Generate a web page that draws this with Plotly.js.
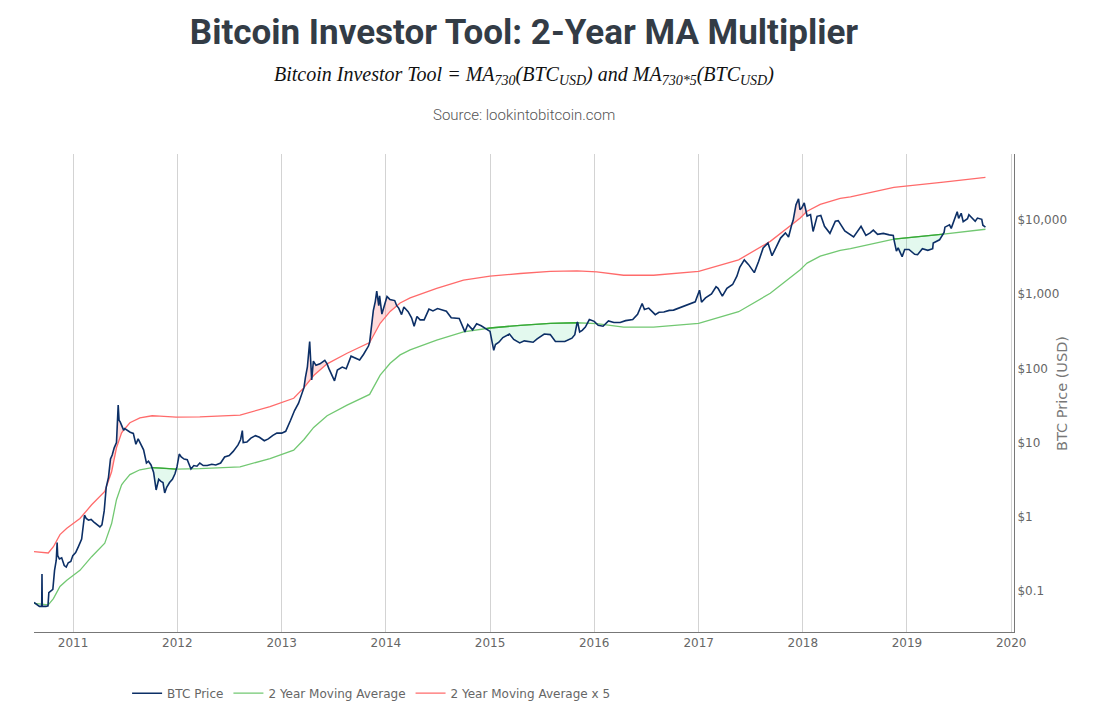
<!DOCTYPE html>
<html>
<head>
<meta charset="utf-8">
<script src="https://cdn.plot.ly/plotly-3.0.1.min.js"></script>
<style>html,body{margin:0;padding:0;background:#fff;}#chart{width:1095px;height:714px;}</style>
</head>
<body>
<div id="chart"></div>
<script>
// ---- BTC price (USD) ----
const priceDates = [
"2010-08-17","2010-08-25","2010-09-05","2010-09-13","2010-09-14","2010-09-15","2010-09-28","2010-10-05","2010-10-08","2010-10-15",
"2010-10-22","2010-10-28","2010-11-03","2010-11-06","2010-11-08","2010-11-14","2010-11-22","2010-12-01","2010-12-08","2010-12-15",
"2010-12-24","2010-12-31","2011-01-10","2011-01-20","2011-01-31","2011-02-10","2011-02-16","2011-02-24","2011-03-05","2011-03-15",
"2011-03-25","2011-04-05","2011-04-12","2011-04-20","2011-04-27","2011-05-05","2011-05-12","2011-05-18","2011-05-25","2011-06-02",
"2011-06-08","2011-06-11","2011-06-15","2011-06-22","2011-06-27","2011-07-01","2011-07-10","2011-07-20","2011-07-31","2011-08-09",
"2011-08-17","2011-08-25","2011-09-05","2011-09-15","2011-09-22","2011-10-01","2011-10-05","2011-10-10","2011-10-19","2011-10-28",
"2011-11-05","2011-11-12","2011-11-18","2011-11-25","2011-12-05","2011-12-15","2011-12-24","2011-12-28","2011-12-31","2012-01-08",
"2012-01-15","2012-01-25","2012-02-05","2012-02-18","2012-02-28","2012-03-10","2012-03-20","2012-04-01","2012-04-15","2012-05-01",
"2012-05-15","2012-06-01","2012-06-15","2012-07-01","2012-07-15","2012-08-01","2012-08-10","2012-08-16","2012-08-19","2012-09-01",
"2012-09-15","2012-10-01","2012-10-15","2012-11-01","2012-11-15","2012-12-01","2012-12-15","2013-01-01","2013-01-15","2013-02-01",
"2013-02-15","2013-03-01","2013-03-15","2013-03-20","2013-03-25","2013-04-01","2013-04-09","2013-04-12","2013-04-16","2013-04-22",
"2013-05-01","2013-05-15","2013-06-01","2013-06-09","2013-06-15","2013-07-05","2013-07-15","2013-08-01","2013-08-15","2013-09-01",
"2013-09-15","2013-10-01","2013-10-15","2013-11-01","2013-11-05","2013-11-10","2013-11-18","2013-11-25","2013-11-30","2013-12-07",
"2013-12-10","2013-12-18","2013-12-25","2014-01-05","2014-01-15","2014-02-01","2014-02-08","2014-02-15","2014-02-25","2014-03-05",
"2014-03-20","2014-04-01","2014-04-10","2014-04-20","2014-05-01","2014-05-15","2014-06-01","2014-06-15","2014-07-01","2014-07-15",
"2014-08-01","2014-08-18","2014-09-01","2014-09-15","2014-10-05","2014-10-15","2014-11-01","2014-11-15","2014-12-01","2014-12-15",
"2014-12-18","2015-01-01","2015-01-14","2015-01-20","2015-02-01","2015-02-15","2015-03-10","2015-03-25","2015-04-15","2015-05-01",
"2015-06-01","2015-06-15","2015-07-10","2015-07-31","2015-08-18","2015-09-01","2015-09-20","2015-10-15","2015-10-25","2015-11-02",
"2015-11-04","2015-11-11","2015-11-20","2015-12-01","2015-12-15","2016-01-01","2016-01-15","2016-02-01","2016-02-20","2016-03-10",
"2016-04-01","2016-04-20","2016-05-15","2016-06-01","2016-06-17","2016-06-25","2016-07-10","2016-08-02","2016-08-15","2016-09-01",
"2016-09-20","2016-10-05","2016-10-25","2016-11-15","2016-12-01","2016-12-20","2017-01-04","2017-01-11","2017-01-25","2017-02-15",
"2017-03-03","2017-03-10","2017-03-25","2017-04-10","2017-04-30","2017-05-15","2017-05-25","2017-06-10","2017-06-25","2017-07-15",
"2017-07-30","2017-08-15","2017-09-01","2017-09-15","2017-10-01","2017-10-15","2017-11-01","2017-11-12","2017-11-24","2017-11-28",
"2017-12-08","2017-12-17","2017-12-22","2017-12-28","2018-01-06","2018-01-12","2018-01-16","2018-01-28","2018-02-06","2018-02-20",
"2018-03-05","2018-03-18","2018-04-06","2018-04-25","2018-05-05","2018-05-28","2018-06-12","2018-06-28","2018-07-24","2018-08-10",
"2018-08-25","2018-09-05","2018-09-20","2018-10-10","2018-10-31","2018-11-14","2018-11-16","2018-11-20","2018-11-25","2018-12-01",
"2018-12-15","2018-12-24","2019-01-08","2019-01-28","2019-02-07","2019-02-24","2019-03-15","2019-04-01","2019-04-03","2019-04-25",
"2019-05-09","2019-05-11","2019-05-14","2019-05-30","2019-06-05","2019-06-26","2019-07-01","2019-07-10","2019-07-17","2019-08-01",
"2019-08-06","2019-08-28","2019-09-05","2019-09-20","2019-09-24","2019-10-03"
];
const priceValues = [
0.070,0.066,0.062,0.062,0.17,0.062,0.062,0.063,0.095,0.10,
0.105,0.19,0.26,0.45,0.30,0.27,0.28,0.22,0.21,0.24,
0.25,0.30,0.33,0.40,0.50,1.05,0.95,0.90,0.92,0.85,
0.80,0.73,0.78,1.2,2.5,3.4,6.0,6.8,8.5,10,
32,20,19,16,14.7,15.4,14.5,13.8,13.3,9.5,
11.2,9.5,8.0,5.3,5.6,5.0,4.6,4.0,2.3,3.2,
3.0,2.9,2.1,2.5,2.9,3.2,3.8,4.4,4.7,7.0,
6.4,6.0,5.9,4.4,4.9,4.8,5.3,4.9,4.9,5.1,
5.0,5.3,6.4,6.7,7.6,9.3,11.0,14.5,10.0,10.2,
11.5,12.4,11.8,10.6,11.2,12.5,13.4,13.4,14.2,20,
27,34,47,55,75,105,230,110,70,125,
110,115,128,115,100,68,95,104,99,146,
137,130,155,200,223,340,600,800,1100,700,
950,540,680,930,850,820,700,650,530,670,
580,480,370,500,450,450,630,595,640,620,
590,480,475,470,310,390,330,400,375,345,
342,315,175,210,225,260,290,245,220,235,
225,250,290,285,230,230,230,255,285,412,
420,310,325,360,455,430,380,370,435,415,
415,440,455,535,750,620,650,530,570,575,
605,610,655,710,750,790,1130,780,890,1010,
1260,1200,940,1200,1350,1750,2300,2900,2500,1950,
2750,4200,4900,3300,4400,5700,6700,5900,8900,9800,
16000,19300,13800,14500,17000,12700,11300,11800,7000,11200,
11500,8200,6600,9600,9800,7100,6500,5900,8200,6200,
6700,7300,6400,6600,6300,6200,5510,4500,3800,4200,
3200,4000,4000,3450,3400,4100,3900,4100,4900,5400,
6460,6800,8000,8600,7700,12900,10500,12300,9500,10400,
11800,9600,10600,10200,8500,8000
];

// ---- 2 Year Moving Average and 2 Year Moving Average x 5 ----
const maDates = [
"2010-08-17","2010-09-15","2010-10-06","2010-10-24","2010-11-16","2010-12-10","2011-01-25","2011-03-07","2011-04-05","2011-04-22",
"2011-04-27","2011-05-16","2011-06-02","2011-06-20","2011-06-27","2011-07-19","2011-08-23","2011-09-27","2011-10-05","2011-11-01",
"2011-12-28","2012-03-20","2012-05-30","2012-08-08","2012-11-21","2013-02-12","2013-03-20","2013-04-23","2013-06-09","2013-08-18",
"2013-11-05","2013-12-12","2014-01-16","2014-02-08","2014-02-20","2014-03-27","2014-06-28","2014-09-30","2014-12-18","2015-01-01",
"2015-04-17","2015-07-31","2015-11-02","2016-01-10","2016-04-13","2016-07-27","2017-01-01","2017-05-21","2017-09-09","2017-11-18",
"2017-11-24","2017-12-23","2018-01-12","2018-01-16","2018-03-03","2018-05-12","2018-06-17","2018-11-16","2019-05-09","2019-10-03"
];
const maValues = [
0.068,0.066,0.065,0.079,0.115,0.14,0.19,0.29,0.38,0.44,
0.50,0.81,1.7,2.7,2.94,3.7,4.3,4.6,4.6,4.55,
4.4,4.45,4.55,4.7,6.1,7.9,11,16,23,32,
44.6,81,117,140,152,178,240,310,342,350,
380,405,412,400,360,360,405,580,1030,1700,
1780,2130,2540,2620,3250,3900,4100,5510,6460,7500
];
const ma5Values = [
0.34,0.33,0.325,0.395,0.575,0.70,0.95,1.45,1.9,2.2,
2.5,4.05,8.5,13.5,14.7,18.5,21.5,23,23,22.75,
22,22.25,22.75,23.5,30.5,39.5,55,80,115,160,
223,405,585,700,760,890,1200,1550,1710,1750,
1900,2025,2060,2000,1800,1800,2025,2900,5150,8500,
8900,10650,12700,13100,16250,19500,20500,27550,32300,37500
];

// ---- periods where price is above MA x5 (pink) or below MA (green) ----
const aboveRanges = [["2011-04-27","2011-06-27"],["2013-03-20","2013-06-09"],["2013-11-05","2014-02-08"],["2017-11-24","2018-01-12"]];
const belowRanges = [["2011-10-05","2011-12-28"],["2014-12-18","2015-11-02"],["2018-11-16","2019-05-09"]];

// ---- axis ticks ----
const yTickVals = [0.1, 1, 10, 100, 1000, 10000];
const yTickText = ["$0.1", "$1", "$10", "$100", "$1,000", "$10,000"];
const seriesNames = ["BTC Price", "2 Year Moving Average", "2 Year Moving Average x 5"];

const C_PRICE = "#0c2f66", C_MA = "#72c872", C_MA5 = "#ff6b6b", C_MA_DARK = "#35a835";

function inRange(dates, vals, s, e) {
  const x = [], y = [];
  dates.forEach((d, i) => { if (d >= s && d <= e) { x.push(d); y.push(vals[i]); } });
  return {x, y};
}
function polygon(s, e, lineVals, color) {
  const p = inRange(priceDates, priceValues, s, e);
  const m = inRange(maDates, lineVals, s, e);
  return {
    x: p.x.concat(m.x.slice().reverse()),
    y: p.y.concat(m.y.slice().reverse()),
    type: "scatter", mode: "lines", fill: "toself", fillcolor: color,
    line: {width: 0}, hoverinfo: "skip", showlegend: false
  };
}

const traces = [];
aboveRanges.forEach(r => traces.push(polygon(r[0], r[1], ma5Values, "rgba(255,80,80,0.2)")));
belowRanges.forEach(r => traces.push(polygon(r[0], r[1], maValues, "rgba(40,210,120,0.13)")));

traces.push({x: maDates, y: maValues, type: "scatter", mode: "lines", name: seriesNames[1],
  line: {color: C_MA, width: 1.3}, legendrank: 2});
traces.push({x: maDates, y: ma5Values, type: "scatter", mode: "lines", name: seriesNames[2],
  line: {color: C_MA5, width: 1.3}, legendrank: 3});
belowRanges.forEach(r => {
  const m = inRange(maDates, maValues, r[0], r[1]);
  traces.push({x: m.x, y: m.y, type: "scatter", mode: "lines", line: {color: C_MA_DARK, width: 1.3},
    hoverinfo: "skip", showlegend: false});
});
traces.push({x: priceDates, y: priceValues, type: "scatter", mode: "lines", name: seriesNames[0],
  line: {color: C_PRICE, width: 1.6}, legendrank: 1});

const layout = {
  width: 1095, height: 714,
  margin: {l: 34, r: 81, t: 154, b: 82, autoexpand: false},
  paper_bgcolor: "#fff", plot_bgcolor: "#fff",
  font: {family: "DejaVu Sans, Verdana, sans-serif", color: "#666", size: 12},
  title: {
    text: "<b>Bitcoin Investor Tool: 2-Year MA Multiplier</b>",
    font: {family: "Roboto, sans-serif", size: 35, color: "#333c46"},
    xref: "paper", x: 0.5, xanchor: "center",
    yref: "container", y: 1 - 32/714, yanchor: "middle"
  },
  xaxis: {
    type: "date", range: ["2010-08-17", "2020-01-11"],
    dtick: "M12", tick0: "2011-01-01", tickformat: "%Y",
    showgrid: true, gridcolor: "#d3d3d3", gridwidth: 1,
    showline: true, linecolor: "#777", linewidth: 1,
    ticks: "", zeroline: false,
    tickfont: {family: "DejaVu Sans, Verdana, sans-serif", size: 12, color: "#666"}
  },
  yaxis: {
    type: "log", side: "right", range: [-1.5526, 4.889],
    tickvals: yTickVals, ticktext: yTickText,
    showgrid: false, zeroline: false,
    showline: true, linecolor: "#777", linewidth: 1, ticks: "",
    tickfont: {family: "DejaVu Sans, Verdana, sans-serif", size: 12, color: "#666"}
  },
  showlegend: true,
  legend: {
    orientation: "h", x: 0.095, xanchor: "left", y: -0.128, yanchor: "middle",
    font: {family: "DejaVu Sans, Verdana, sans-serif", size: 12, color: "#666"},
    traceorder: "normal", bgcolor: "rgba(0,0,0,0)"
  },
  annotations: [
    {
      text: "<i>Bitcoin Investor Tool = MA<sub>730</sub>(BTC<sub>USD</sub>) and MA<sub>730*5</sub>(BTC<sub>USD</sub>)</i>",
      xref: "paper", yref: "paper", x: 0.5, y: (632 - 75) / 478, xanchor: "center", yanchor: "middle",
      showarrow: false, font: {family: "Liberation Serif, DejaVu Serif, serif", size: 20, color: "#111"}
    },
    {
      text: "Source: lookintobitcoin.com",
      xref: "paper", yref: "paper", x: 0.5, y: (632 - 115) / 478, xanchor: "center", yanchor: "middle",
      showarrow: false, font: {family: "Roboto, sans-serif", size: 15, color: "#555", weight: 300}
    },
    {
      text: "BTC Price (USD)",
      xref: "paper", yref: "paper", x: (1062 - 34) / 980, y: (632 - 394) / 478, xanchor: "center", yanchor: "middle",
      textangle: -90, showarrow: false,
      font: {family: "DejaVu Sans, Verdana, sans-serif", size: 14.5, color: "#777"}
    }
  ]
};

Plotly.newPlot("chart", traces, layout, {displayModeBar: false, staticPlot: true});
</script>
</body>
</html>
